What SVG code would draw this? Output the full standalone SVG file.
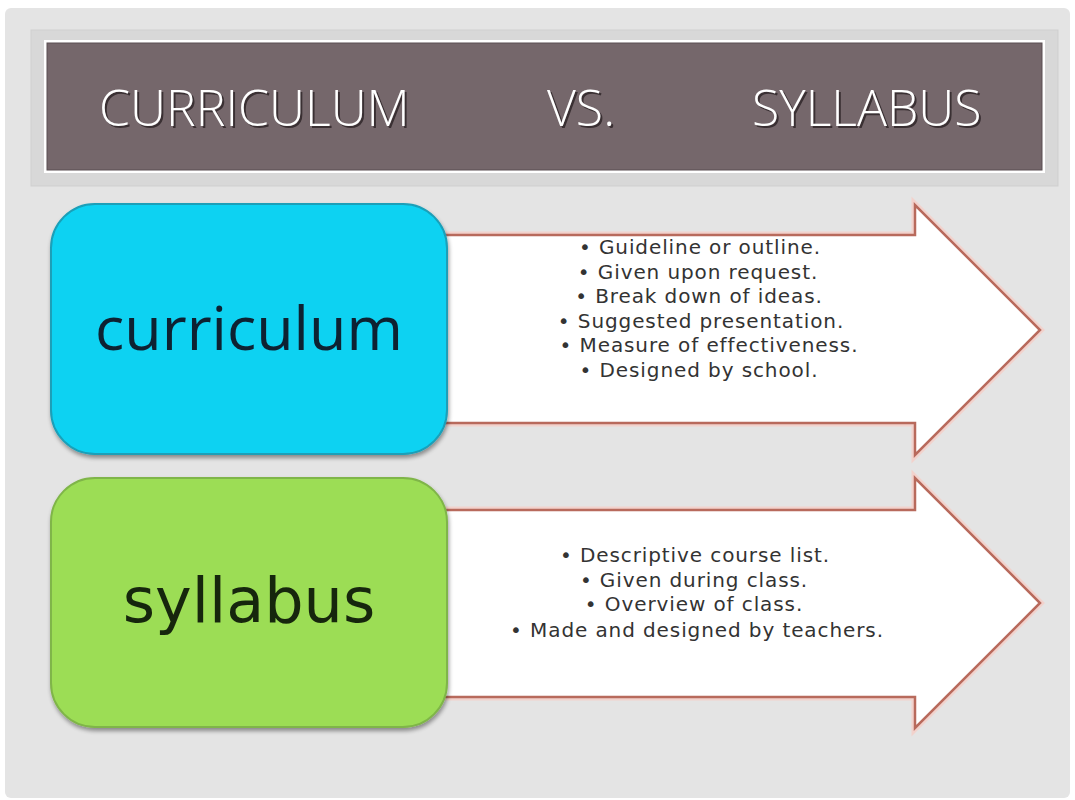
<svg xmlns="http://www.w3.org/2000/svg" width="1075" height="800" viewBox="0 0 1075 800">
<defs>
<style>
.title{font-family:"Open Sans","Liberation Sans",sans-serif;font-size:50px;font-weight:300;fill:#ffffff;}
.tshadow{font-family:"Open Sans","Liberation Sans",sans-serif;font-size:50px;font-weight:300;fill:#3a3033;}
.bul{font-family:"DejaVu Sans","Liberation Sans",sans-serif;font-size:20px;letter-spacing:0.9px;fill:#333333;text-anchor:middle;}
.arrow{fill:#ffffff;stroke:#b86a5c;stroke-width:2.5;stroke-linejoin:miter;}
.glow{fill:none;stroke:#f2d2cc;stroke-width:7;stroke-linejoin:miter;}
</style>
<filter id="sh" x="-10%" y="-10%" width="120%" height="125%">
<feGaussianBlur in="SourceAlpha" stdDeviation="2"/>
<feOffset dx="1" dy="3" result="b"/>
<feComponentTransfer><feFuncA type="linear" slope="0.4"/></feComponentTransfer>
<feMerge><feMergeNode/><feMergeNode in="SourceGraphic"/></feMerge>
</filter>
</defs>
<rect x="0" y="0" width="1075" height="800" fill="#ffffff"/>
<rect x="5" y="8" width="1065" height="790" rx="6" fill="#e4e4e4"/>

<g id="title">
<rect x="31" y="30" width="1027" height="156" fill="#d8d8d8" stroke="#cfcfcf" stroke-width="1"/>
<rect x="44" y="40" width="1001" height="133" fill="#ffffff"/>
<rect x="47" y="43" width="995" height="127" fill="#75676b" stroke="#5a4f52" stroke-width="1"/>
<text class="tshadow" x="101" y="128">CURRICULUM</text>
<text class="title" x="99" y="126">CURRICULUM</text>
<text class="tshadow" x="549" y="128">VS.</text>
<text class="title" x="547" y="126">VS.</text>
<text class="tshadow" x="754" y="128">SYLLABUS</text>
<text class="title" x="752" y="126">SYLLABUS</text>
</g>

<g id="connectors">
<g id="arrow1">
<path class="glow" d="M440,235 L915,235 L915,205 L1040,330 L915,455 L915,423 L440,423"/>
<path class="arrow" d="M440,235 L915,235 L915,205 L1040,330 L915,455 L915,423 L440,423 Z"/>
</g>
<g id="arrow2">
<path class="glow" d="M440,510 L915,510 L915,478 L1040,603 L915,728 L915,697 L440,697"/>
<path class="arrow" d="M440,510 L915,510 L915,478 L1040,603 L915,728 L915,697 L440,697 Z"/>
</g>
</g>

<g id="curriculum-list">
<text class="bul" x="700" y="254">• Guideline or outline.</text>
<text class="bul" x="698" y="279">• Given upon request.</text>
<text class="bul" x="699" y="303">• Break down of ideas.</text>
<text class="bul" x="701" y="328">• Suggested presentation.</text>
<text class="bul" x="709" y="352">• Measure of effectiveness.</text>
<text class="bul" x="699" y="377">• Designed by school.</text>
</g>

<g id="syllabus-list">
<text class="bul" x="695" y="562">• Descriptive course list.</text>
<text class="bul" x="694" y="587">• Given during class.</text>
<text class="bul" x="694" y="611">• Overview of class.</text>
<text class="bul" x="697" y="637">• Made and designed by teachers.</text>
</g>

<g id="curriculum" filter="url(#sh)">
<rect x="51" y="204" width="396" height="250" rx="44" fill="#0ad2f2" stroke="#1a9fb8" stroke-width="2"/>
<text x="249" y="350" text-anchor="middle" font-family="Open Sans, Liberation Sans, sans-serif" font-size="61" fill="#0b2233">curriculum</text>
</g>

<g id="syllabus" filter="url(#sh)">
<rect x="51" y="478" width="396" height="249" rx="44" fill="#9cdd54" stroke="#7fb548" stroke-width="2"/>
<text x="249" y="622" text-anchor="middle" font-family="DejaVu Sans, Liberation Sans, sans-serif" font-size="62" fill="#17250e">syllabus</text>
</g>
</svg>
